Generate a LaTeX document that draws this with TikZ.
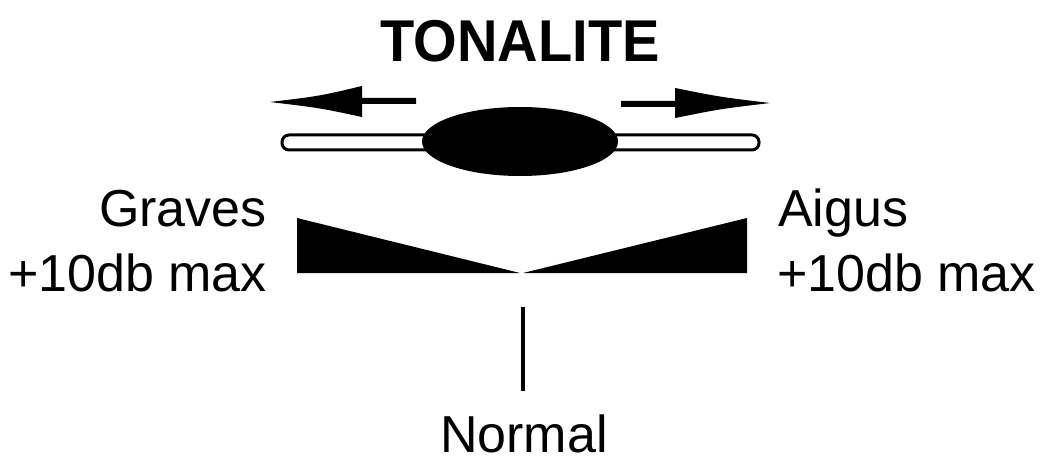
\documentclass[tikz,border=0pt]{standalone}
\usepackage{fontspec}
\setmainfont{Liberation Sans}
\begin{document}
\begin{tikzpicture}[x=1pt,y=-1pt,
  lbl/.style={inner sep=0pt,font=\fontsize{52}{64}\selectfont},
  ttl/.style={inner sep=0pt,font=\fontsize{59}{64}\selectfont\bfseries},
  blk/.style={fill=black,draw=none}]
\useasboundingbox (0,0) rectangle (1043,462);
% title
\node[ttl,anchor=base,xscale=0.95] (title) at (520,62) {TONALITE};
% arrows
\fill[blk] (270,102) .. controls (320,96) .. (362,86) -- (362,98) -- (416,98) -- (416,104) -- (362,104) -- (362,117) .. controls (320,108) .. cycle;
\fill[blk] (770,103) .. controls (720,97) .. (675,88) -- (675,101) -- (621,101) -- (621,107) -- (675,107) -- (675,118) .. controls (720,109) .. cycle;
% slider
\draw[line width=3pt,fill=white,rounded corners=7pt] (282,135) rectangle (759,150);
\fill[blk] (520,141.5) ellipse [x radius=98, y radius=34.5];
% wedges
\fill[blk] (297,218) -- (297,273) -- (520,273) -- cycle;
\fill[blk] (523,273) -- (747,273) -- (747,218) -- cycle;
% normal mark
\coordinate (mtop) at (523,307);
\coordinate (mbot) at (523,391);
\draw[line width=4pt] (mtop) -- (mbot);
% labels
\node[lbl,anchor=base east] (graves) at (267,227) {Graves};
\node[lbl,anchor=base east] (gmax) at (267,291) {+10db max};
\node[lbl,anchor=base west] (aigus) at (778,227) {Aigus};
\node[lbl,anchor=base west] (amax) at (777,291) {+10db max};
\node[lbl,anchor=base] (normal) at (524,452) {Normal};
\end{tikzpicture}
\end{document}
